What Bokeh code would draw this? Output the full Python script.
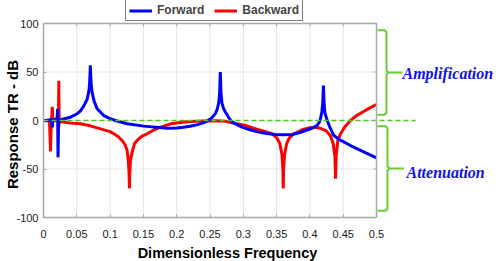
import math
from bokeh.plotting import figure
from bokeh.models import (Range1d, FixedTicker, Legend, LegendItem, Label,
                          ColumnDataSource)
from bokeh.core.properties import value
from bokeh.embed import file_html
from bokeh.resources import INLINE

# ---------------- data ----------------
fwd_x = [0.0, 0.005, 0.010, 0.012, 0.0128, 0.0133, 0.0138, 0.015, 0.0195, 0.0205,
         0.0212, 0.0218, 0.0225, 0.0235, 0.025, 0.030, 0.0405, 0.0506, 0.0556,
         0.0605, 0.0656, 0.068, 0.069, 0.0697, 0.0703, 0.071, 0.0718, 0.073,
         0.076, 0.0806, 0.0856, 0.0906, 0.100, 0.108, 0.1256, 0.1506, 0.186,
         0.200, 0.210, 0.220, 0.230, 0.240, 0.247, 0.253, 0.258, 0.261, 0.263,
         0.2645, 0.2655, 0.2665, 0.268, 0.2705, 0.2733, 0.278, 0.2833, 0.290,
         0.298, 0.310, 0.3233, 0.335, 0.348, 0.360, 0.3734, 0.385, 0.3934,
         0.403, 0.410, 0.414, 0.416, 0.418, 0.4193, 0.4203, 0.4213, 0.4225,
         0.426, 0.430, 0.436, 0.445, 0.461, 0.480, 0.500]
fwd_y = [0.0, 0.3, 0.8, 1.5, -4.0, -7.0, -2.0, 0.5, 1.5, 3.0,
         12.0, -38.0, -8.0, -1.0, 0.5, 1.5, 3.4, 7.0, 10.0,
         15.0, 22.0, 30.0, 36.0, 45.0, 57.0, 45.0, 36.0, 29.0,
         20.0, 12.0, 8.5, 5.0, 2.0, 0.0, -3.4, -5.8, -7.9,
         -7.8, -7.0, -6.0, -4.5, -2.5, 0.0, 3.0, 7.0, 12.0, 18.0,
         28.0, 50.0, 28.0, 18.0, 12.0, 8.6, 3.0, -1.7, -4.0,
         -6.9, -9.5, -12.0, -13.5, -14.4, -14.8, -14.4, -12.5, -10.3,
         -8.0, -5.5, -2.0, 2.0, 9.0, 18.0, 36.0, 18.0, 8.0,
         0.0, -7.0, -15.5, -20.0, -25.8, -32.0, -38.5]

bwd_x = [0.0, 0.006, 0.009, 0.0105, 0.0115, 0.0125, 0.0132, 0.014, 0.016, 0.020,
         0.0225, 0.023, 0.0235, 0.025, 0.030, 0.040, 0.0556, 0.070, 0.0856,
         0.100, 0.1056, 0.112, 0.118, 0.1225, 0.1256, 0.1275, 0.1285, 0.129,
         0.1295, 0.1305, 0.133, 0.1365, 0.1406, 0.148, 0.1556, 0.165, 0.1757,
         0.1907, 0.205, 0.220, 0.240, 0.260, 0.2733, 0.285, 0.3033, 0.3233,
         0.3433, 0.3505, 0.355, 0.358, 0.3595, 0.360, 0.3605, 0.362, 0.365,
         0.369, 0.376, 0.3884, 0.400, 0.408, 0.416, 0.425, 0.431, 0.435,
         0.4375, 0.4385, 0.4395, 0.442, 0.446, 0.452, 0.461, 0.470, 0.480,
         0.490, 0.500]
bwd_y = [0.0, -0.3, -1.0, -32.0, -5.0, 5.0, 14.0, 2.0, 0.0, -0.5,
         2.0, 41.0, 0.0, -1.0, -1.5, -2.5, -3.4, -5.5, -8.6,
         -11.5, -13.7, -16.5, -20.6, -25.0, -31.0, -42.0, -55.0, -70.0,
         -55.0, -42.0, -32.6, -24.0, -20.6, -16.0, -13.7, -10.0, -6.9,
         -3.4, -2.0, -1.0, -0.5, -0.3, -0.7, -2.5, -5.0, -9.6,
         -13.7, -18.0, -24.0, -35.0, -50.0, -70.0, -50.0, -35.0, -24.0,
         -18.0, -13.7, -9.6, -7.5, -6.9, -8.0, -11.0, -16.0, -24.0,
         -36.0, -60.0, -36.0, -20.0, -13.7, -7.0, 0.0, 5.0, 9.0,
         13.0, 16.5]

x_ticks = [0, 0.05, 0.1, 0.15, 0.2, 0.25, 0.3, 0.35, 0.4, 0.45, 0.5]
x_tick_labels = ["0", "0.05", "0.1", "0.15", "0.2", "0.25", "0.3", "0.35",
                 "0.4", "0.45", "0.5"]
y_ticks = [-100, -50, 0, 50, 100]
y_tick_labels = ["-100", "-50", "0", "50", "100"]

series_names = ["Forward", "Backward"]
zone_names = ["Amplification", "Attenuation"]
x_title = "Dimensionless Frequency"
y_title = "Response TR - dB"
amp_zone = (6, 93)      # dB extent of the amplification bracket
att_zone = (-6, -93)    # dB extent of the attenuation bracket

# ---------------- layout / styles ----------------
W, H = 498, 261
LEFT, BOTTOM, TOP = 43, 44, 23     # px around the box x 0..0.5, y -100..100
PLOT_W, PLOT_H = 333, 194
X0, X1, Y0, Y1 = 0.0, 0.5, -100.0, 100.0
DX = (X1 - X0) / PLOT_W            # data units per px
DY = (Y1 - Y0) / PLOT_H


def px_x(px):   # canvas px -> data x
    return X0 + (px - LEFT) * DX


def px_y(py):   # canvas px (from top) -> data y
    return Y1 - (py - TOP) * DY


BLUE = "#0000FF"
RED = "#FF0000"
GREEN = "#4CC81E"
BRACE = "#66CC33"
FRAME = "#A8A8A8"
GRID = "#E6E6E6"

p = figure(width=W, height=H, x_range=Range1d(px_x(0), px_x(W)),
           y_range=Range1d(px_y(H), px_y(0)), output_backend="svg",
           toolbar_location=None, min_border_left=0, min_border_right=0,
           min_border_top=0, min_border_bottom=0)
p.outline_line_color = None
p.grid.visible = False

# grid lines inside the box
p.segment(x0=x_ticks[1:-1], y0=[Y0] * (len(x_ticks) - 2),
          x1=x_ticks[1:-1], y1=[Y1] * (len(x_ticks) - 2),
          line_color=GRID, line_width=1)
p.segment(x0=[X0] * (len(y_ticks) - 2), y0=y_ticks[1:-1],
          x1=[X1] * (len(y_ticks) - 2), y1=y_ticks[1:-1],
          line_color=GRID, line_width=1)

rb = p.line(bwd_x, bwd_y, line_color=RED, line_width=3)
rf = p.line(fwd_x, fwd_y, line_color=BLUE, line_width=3)
p.line([X0, px_x(415)], [0, 0], line_color=GREEN, line_width=1.5,
       line_dash="5 3")

# top and right edges of the box with inward ticks
p.line([X0, X1, X1], [Y1, Y1, Y0], line_color=FRAME, line_width=1.5)
p.segment(x0=x_ticks, y0=[Y1] * len(x_ticks), x1=x_ticks,
          y1=[Y1 - 3 * DY] * len(x_ticks), line_color=FRAME, line_width=1)
p.segment(x0=[X1] * len(y_ticks), y0=y_ticks, x1=[X1 - 3 * DX] * len(y_ticks),
          y1=y_ticks, line_color=FRAME, line_width=1)

for ax in (p.xaxis[0], p.yaxis[0]):
    ax.axis_line_color = FRAME
    ax.axis_line_width = 1.5
    ax.major_tick_in = 3
    ax.major_tick_out = 0
    ax.minor_tick_line_color = None
    ax.major_tick_line_color = FRAME
    ax.major_label_text_font = "Liberation Sans"
    ax.major_label_text_font_size = "11px"
    ax.major_label_text_color = "#1A1A1A"

p.xaxis.fixed_location = Y0
p.xaxis.bounds = (X0, X1)
p.xaxis.ticker = FixedTicker(ticks=x_ticks)
p.xaxis.major_label_overrides = dict(zip(x_ticks, x_tick_labels))
p.xaxis.major_label_standoff = 12
p.yaxis.fixed_location = X0
p.yaxis.bounds = (Y0, Y1)
p.yaxis.ticker = FixedTicker(ticks=y_ticks)
p.yaxis.major_label_overrides = dict(zip(y_ticks, y_tick_labels))
p.yaxis.major_label_standoff = 5

# axis titles
xl = Label(x=px_x(227), y=px_y(252), text=x_title, text_font="Liberation Sans",
           text_font_style="bold", text_font_size="14.5px",
           text_color="#000000", text_align="center", text_baseline="middle")
p.add_layout(xl)
yl = Label(x=px_x(11.5), y=px_y(124), text=y_title, text_font="Liberation Sans",
           text_font_style="bold", text_font_size="15px", angle=math.pi / 2,
           text_color="#000000", text_align="center", text_baseline="middle")
p.add_layout(yl)

legend = Legend(items=[LegendItem(label=series_names[0], renderers=[rf]),
                       LegendItem(label=series_names[1], renderers=[rb])],
                orientation="horizontal", location=(125, H - 21))
legend.label_text_font = "Liberation Sans"
legend.label_text_font_style = "bold"
legend.label_text_font_size = "12px"
legend.border_line_color = "black"
legend.border_line_width = 1
legend.background_fill_alpha = 1
legend.padding = 3
legend.spacing = 10
legend.glyph_width = 23
legend.glyph_height = 13
legend.label_standoff = 5
legend.label_height = 13
legend.margin = 0
p.add_layout(legend, "center")


# --------------- braces and zone names on the right ---------------
def brace(lo, hi, x0, xv, xt):
    mid = (lo + hi) / 2
    s = 1 if hi > lo else -1
    xs = [x0, xv - 2 * DX, xv, xv, xv + 2 * DX, xt, xv + 2 * DX, xv, xv,
          xv - 2 * DX, x0]
    ys = [hi, hi, hi - 2 * s, mid + 2 * s, mid, mid, mid, mid - 2 * s,
          lo + 2 * s, lo, lo]
    return xs, ys


bx, by = brace(amp_zone[0], amp_zone[1], px_x(377), px_x(386), px_x(402))
p.line(bx, by, line_color=BRACE, line_width=2)
bx, by = brace(att_zone[0], att_zone[1], px_x(377), px_x(387), px_x(403.5))
p.line(bx, by, line_color=BRACE, line_width=2)

src = ColumnDataSource(dict(x=[px_x(402), px_x(406)], y=[px_y(73.3), px_y(171.7)],
                            t=zone_names))
p.text(x="x", y="y", text="t", source=src, text_font=value("Liberation Serif"),
       text_font_style="bold italic", text_font_size="16px",
       text_color="#1010EE", text_baseline="middle", text_align="left")

open("out.html", "w").write(file_html(p, INLINE))
